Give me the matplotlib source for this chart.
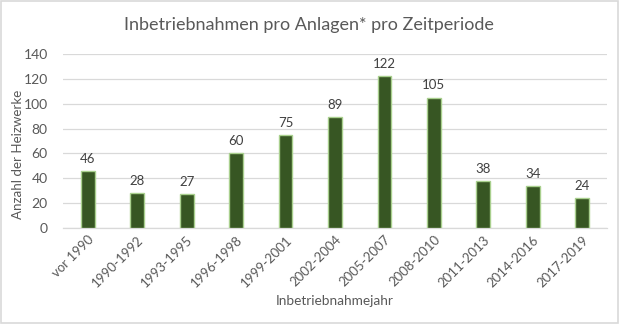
import numpy as np
import matplotlib
matplotlib.use("Agg")
import matplotlib.pyplot as plt
from matplotlib.patches import Rectangle

plt.rcParams['font.family'] = ['Lato', 'DejaVu Sans']

categories = ["vor 1990", "1990-1992", "1993-1995", "1996-1998", "1999-2001",
              "2002-2004", "2005-2007", "2008-2010", "2011-2013", "2014-2016",
              "2017-2019"]
values = [46, 28, 27, 60, 75, 89, 122, 105, 38, 34, 24]

TEXT = "#595959"
GRID = "#D9D9D9"

fig = plt.figure(figsize=(6.22, 3.27), dpi=100)
ax = fig.add_axes([63 / 622, 1 - 228 / 327, 544 / 622, 174 / 327])

x = np.arange(len(categories))
bars = ax.bar(x, values, width=0.28, color="#375623", edgecolor="#A9D08E",
              linewidth=1.0, zorder=3)
for xi, v in zip(x, values):
    ax.text(xi, v + 5, str(v), ha="center", va="bottom", fontsize=9.5,
            color="#404040")

ax.set_xlim(-0.5, len(categories) - 0.5)
ax.set_ylim(0, 140)
ax.set_yticks(range(0, 141, 20))
ax.grid(axis="y", color=GRID, linewidth=0.9, zorder=0)
for s in ["top", "right", "left"]:
    ax.spines[s].set_visible(False)
ax.spines["bottom"].set_color(GRID)
ax.spines["bottom"].set_linewidth(0.9)
ax.tick_params(axis="both", length=0, labelsize=10, labelcolor=TEXT)
ax.tick_params(axis="y", pad=11)
ax.set_xticks(x)
ax.set_xticklabels(categories, rotation=45, ha="right", rotation_mode="anchor",
                   fontsize=9.5)
ax.tick_params(axis="x", pad=4)

ax.set_ylabel("Anzahl der Heizwerke", fontsize=9.6, color=TEXT)
ax.yaxis.set_label_coords(-0.072, 0.425)
ax.set_xlabel("Inbetriebnahmejahr", fontsize=9.8, color=TEXT, labelpad=4)
fig.text(0.497, 1 - 25 / 327, "Inbetriebnahmen pro Anlagen* pro Zeitperiode",
         ha="center", va="center", fontsize=13, color=TEXT)

fig.patches.append(Rectangle((0.5 / 622, 1 - 323 / 327), 617 / 622, 322 / 327,
                             transform=fig.transFigure, fill=False,
                             edgecolor=GRID, linewidth=1.2))

fig.savefig("out.png", dpi=100)
